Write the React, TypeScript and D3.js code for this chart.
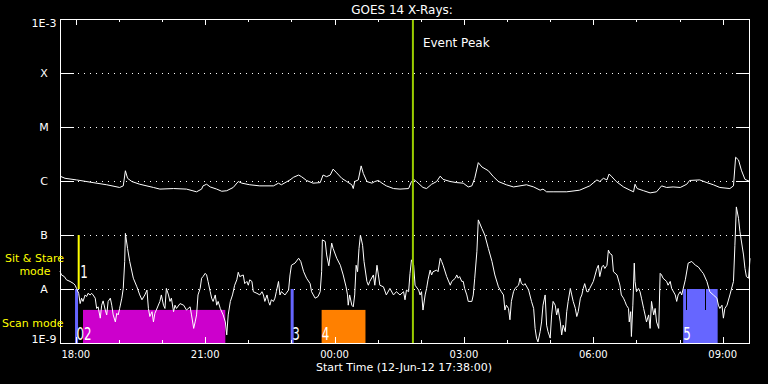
import React from "react";
import * as d3 from "d3";

// ---- data ----
const START_UTC = Date.UTC(2012, 5, 12, 17, 38, 0);
const SPAN_MIN = 960; // minutes shown
const titleText = "GOES 14 X-Rays:";
const xAxisTitle = "Start Time (12-Jun-12 17:38:00)";

// [minutes after start, log10 flux W/m^2]
const longChannel: [number, number][] = [
  [0,-5.91],[7,-5.95],[23,-5.98],[46,-6.03],[65,-6.07],[83,-6.12],[88,-6.09],[91,-5.81],[94,-5.95],[100,-6.01],
  [111,-6.06],[130,-6.12],[139,-6.15],[158,-6.14],[176,-6.15],[190,-6.2],[197,-6.15],[199,-6.09],[204,-6.06],[209,-6.11],
  [218,-6.15],[225,-6.19],[232,-6.18],[241,-6.12],[248,-6.01],[253,-6.04],[264,-6.07],[278,-6.09],[297,-6.09],[304,-6.04],
  [308,-6.07],[320,-5.98],[325,-5.93],[332,-5.89],[336,-5.92],[343,-5.99],[352,-6.04],[362,-6.03],[366,-5.89],[371,-5.92],
  [376,-5.89],[380,-5.78],[385,-5.85],[392,-5.95],[399,-6.01],[406,-6.07],[408,-6.14],[410,-6.01],[415,-5.98],[419,-5.72],
  [422,-5.86],[427,-6.01],[434,-6.04],[438,-6.01],[443,-5.99],[448,-6.04],[454,-6.09],[464,-6.14],[473,-6.15],[485,-6.14],
  [489,-6.01],[492,-5.97],[496,-6.01],[505,-6.12],[510,-6.14],[517,-6.06],[524,-6.01],[529,-5.91],[533,-5.97],[543,-6.01],
  [552,-6.03],[561,-6.04],[568,-6.11],[573,-6.09],[577,-5.95],[582,-5.66],[587,-5.74],[596,-5.81],[603,-5.92],[610,-6.01],
  [621,-6.07],[631,-6.11],[640,-6.09],[649,-6.07],[659,-6.11],[668,-6.17],[672,-6.15],[677,-6.2],[686,-6.2],[705,-6.2],
  [723,-6.17],[737,-6.09],[747,-5.98],[751,-6.01],[756,-5.95],[761,-5.98],[764,-5.87],[767,-5.91],[774,-6.01],[784,-6.11],
  [793,-6.17],[798,-6.2],[800,-6.06],[803,-6.14],[812,-6.18],[821,-6.22],[830,-6.2],[837,-6.09],[844,-6.12],[853,-6.11],
  [863,-6.12],[872,-6.06],[876,-5.99],[890,-5.98],[900,-6.03],[909,-6.07],[918,-6.12],[932,-6.14],[937,-6.09],[940,-5.56],
  [944,-5.61],[948,-5.8],[953,-5.97],[960,-6.01]
];

const shortChannel: [number, number][] = [
  [0,-7.67],[2,-7.74],[6,-7.77],[9,-7.83],[14,-7.86],[19,-7.9],[21,-7.93],[23,-7.99],[26,-8.08],[28,-8.27],
  [30,-8.17],[32,-8.23],[35,-8.11],[37,-8.14],[39,-8.08],[42,-8.11],[44,-8.08],[46,-8.11],[49,-8.17],[51,-8.36],
  [53,-8.33],[56,-8.54],[58,-8.3],[60,-8.22],[63,-8.39],[65,-8.48],[67,-8.23],[70,-8.17],[72,-8.3],[74,-8.48],
  [77,-8.61],[79,-8.45],[81,-8.48],[83,-8.36],[86,-8.17],[88,-7.99],[90,-7.49],[91,-6.97],[94,-7.25],[97,-7.49],
  [102,-7.8],[107,-7.96],[111,-8.11],[114,-8.2],[118,-8.11],[121,-8.02],[123,-8.36],[125,-8.51],[128,-8.42],[130,-8.61],
  [132,-8.45],[134,-8.39],[139,-8.23],[141,-8.11],[144,-8.3],[146,-8.36],[148,-7.99],[151,-8.11],[153,-8.23],[155,-8.17],
  [158,-8.42],[160,-8.3],[162,-8.36],[167,-8.27],[172,-8.3],[176,-8.39],[181,-8.33],[183,-8.48],[186,-8.73],[188,-8.61],
  [190,-8.48],[192,-8.11],[195,-7.99],[197,-7.8],[199,-7.77],[202,-7.71],[204,-7.74],[206,-7.86],[209,-8.05],[211,-8.17],
  [213,-8.23],[216,-8.11],[218,-8.3],[220,-8.23],[223,-8.36],[227,-8.48],[230,-8.61],[232,-8.85],[234,-8.48],[237,-8.23],
  [240,-8.11],[243,-7.93],[246,-7.83],[248,-7.69],[250,-7.77],[255,-7.74],[257,-7.9],[260,-7.86],[262,-7.93],[264,-7.83],
  [267,-7.86],[269,-8.05],[274,-8.08],[278,-8.11],[281,-8.05],[283,-8.11],[285,-8.23],[288,-8.11],[290,-8.23],[292,-8.3],
  [294,-8.2],[297,-8.23],[299,-8.17],[301,-8.05],[304,-7.86],[306,-8.11],[308,-8.05],[313,-8.11],[318,-8.02],[320,-7.74],
  [322,-7.56],[327,-7.52],[332,-7.43],[335,-7.49],[339,-7.68],[343,-7.8],[348,-7.9],[350,-8.05],[355,-8.17],[359,-8.14],
  [362,-8.05],[364,-7.68],[365,-7.09],[369,-7.12],[371,-7.37],[374,-7.57],[378,-7.15],[380,-7.25],[385,-7.43],[390,-7.56],
  [394,-7.74],[398,-7.96],[400,-8.11],[401,-8.3],[403,-8.11],[406,-8.3],[408,-8.33],[410,-8.11],[412,-7.56],[414,-7.68],
  [416,-7.25],[418,-7.0],[421,-7.19],[423,-7.49],[427,-7.86],[429,-7.93],[431,-7.86],[436,-7.74],[438,-7.93],[441,-7.56],
  [443,-7.74],[445,-7.93],[450,-7.96],[454,-8.11],[459,-7.99],[464,-8.11],[468,-8.05],[473,-8.11],[478,-8.05],[480,-8.2],
  [482,-8.02],[485,-8.05],[487,-7.71],[489,-7.46],[492,-7.56],[494,-7.93],[499,-8.02],[501,-8.11],[503,-8.05],[505,-8.39],
  [508,-8.11],[510,-7.99],[512,-7.83],[515,-7.65],[517,-7.74],[519,-7.68],[524,-7.65],[526,-7.68],[529,-7.43],[531,-7.49],
  [533,-7.56],[538,-7.77],[543,-7.93],[545,-7.86],[550,-7.8],[552,-7.74],[554,-7.8],[556,-7.77],[559,-7.86],[561,-7.86],
  [563,-7.99],[566,-8.11],[568,-8.23],[573,-8.23],[575,-8.11],[577,-7.8],[580,-7.31],[582,-6.72],[587,-6.88],[591,-7.0],
  [596,-7.25],[601,-7.49],[605,-7.74],[610,-7.96],[614,-8.05],[617,-8.11],[619,-8.39],[621,-8.3],[624,-8.36],[626,-8.57],
  [628,-8.23],[631,-8.05],[633,-7.99],[638,-7.93],[640,-7.8],[642,-7.9],[645,-7.93],[647,-7.9],[652,-8.02],[656,-8.23],
  [659,-8.36],[661,-8.73],[663,-8.91],[665,-8.98],[668,-8.79],[670,-8.61],[672,-8.3],[675,-8.11],[677,-8.67],[679,-8.79],
  [682,-8.91],[684,-8.48],[686,-8.23],[689,-8.3],[691,-8.48],[693,-8.36],[696,-8.61],[698,-8.85],[700,-8.67],[703,-8.79],
  [705,-8.42],[707,-8.23],[710,-7.99],[712,-8.11],[714,-8.23],[717,-8.36],[719,-8.51],[721,-8.42],[724,-8.17],[726,-8.11],
  [728,-7.99],[730,-7.9],[733,-8.05],[735,-8.05],[737,-7.99],[742,-7.86],[747,-7.62],[749,-7.56],[751,-7.77],[754,-7.59],
  [756,-7.56],[758,-7.62],[761,-7.56],[763,-7.28],[765,-7.34],[768,-7.37],[770,-7.68],[775,-7.74],[779,-7.93],[781,-8.11],
  [784,-8.17],[786,-8.23],[788,-8.3],[791,-8.36],[792,-8.61],[794,-8.42],[795,-8.88],[797,-8.3],[799,-7.52],[800,-7.86],
  [802,-8.05],[805,-7.99],[807,-8.05],[809,-8.17],[812,-8.36],[814,-8.48],[816,-8.61],[819,-8.48],[821,-8.73],[823,-8.23],
  [826,-8.48],[828,-8.36],[830,-8.61],[833,-8.73],[835,-7.71],[837,-7.74],[839,-7.8],[844,-7.86],[846,-7.93],[849,-7.86],
  [851,-7.99],[856,-8.11],[858,-8.23],[860,-8.11],[863,-8.05],[865,-8.11],[870,-7.83],[874,-7.52],[879,-7.49],[884,-7.56],
  [888,-7.59],[893,-7.68],[895,-7.71],[900,-7.86],[904,-8.05],[909,-8.11],[914,-8.17],[916,-8.3],[918,-8.36],[921,-8.3],
  [923,-8.54],[925,-8.36],[928,-8.3],[932,-8.11],[937,-7.86],[939,-7.19],[941,-6.48],[944,-6.69],[946,-6.94],[951,-7.37],
  [953,-7.62],[955,-7.77],[958,-7.8],[960,-7.43]
];

const levelValues = [1e-9, 1e-8, 1e-7, 1e-6, 1e-5, 1e-4, 1e-3];
const levelLabels = ["1E-9", "A", "B", "C", "M", "X", "1E-3"];
const gridLevels = [1e-8, 1e-7, 1e-6, 1e-5, 1e-4];

// observation markers (minutes after start, flux range)
const markerLabels = ["0", "1", "2", "3", "4", "5"];
const markerStart = [23, 26, 32, 323, 364, 867];
const markerEnd = [23, 26, 230, 323, 425, 915];
const markerLow = [1e-9, 1e-8, 1e-9, 1e-9, 1e-9, 1e-9];
const markerHigh = [1e-8, 1e-7, 4.1e-9, 1e-8, 4.1e-9, 1e-8];
const gapTimes = [871, 898];
const gapRange = [4.1e-9, 1e-8];
const eventPeakTime = 491;
const eventPeakLabel = "Event Peak";
const modeLabels = ["Sit & Stare", "mode", "Scan mode"];

// ---- styles ----
const markerColors = ["#6666ff", "#ffff00", "#cc00cc", "#6666ff", "#ff8000", "#6666ff"];
const FONT = "DejaVu Sans, Verdana, sans-serif";

const W = 768, H = 384;
const L = 60, R = 750, T = 19, B = 343;

export default function App() {
  const x = d3.scaleUtc()
    .domain([new Date(START_UTC), new Date(START_UTC + SPAN_MIN * 60000)])
    .range([L, R]);
  const y = d3.scaleLog().domain([1e-9, 1e-3]).range([B, T]);
  const tx = (m: number) => x(new Date(START_UTC + m * 60000));
  const ty = (lg: number) => y(Math.pow(10, lg));
  const line = d3.line<[number, number]>().x(d => tx(d[0])).y(d => ty(d[1]));
  const hourTicks = x.ticks(d3.utcHour.every(1) as any);
  const fmt = d3.utcFormat("%H:%M");

  return (
    <svg width={W} height={H} style={{ position: "absolute", left: 0, top: 0, background: "#000" }}
      fontFamily={FONT}>
      <rect x={0} y={0} width={W} height={H} fill="#000" />
      {/* dotted grid */}
      {gridLevels.map((v, i) => (
        <line key={"g" + i} x1={L} x2={R} y1={Math.round(y(v)) + 0.5} y2={Math.round(y(v)) + 0.5}
          stroke="#fff" strokeDasharray="1 5" shapeRendering="crispEdges" />
      ))}
      {/* markers */}
      {markerLabels.map((lab, i) => {
        const x0 = tx(markerStart[i]);
        const x1 = tx(markerEnd[i]);
        const yTop = y(markerHigh[i]);
        const yBot = y(markerLow[i]);
        const isLine = markerEnd[i] === markerStart[i];
        return isLine ? (
          <rect key={"m" + i} x={x0 - (i === 1 ? 1 : 1.5)} width={i === 1 ? 2 : 3} y={yTop} height={yBot - yTop}
            fill={markerColors[i]} />
        ) : (
          <rect key={"m" + i} x={x0} width={x1 - x0} y={yTop} height={yBot - yTop} fill={markerColors[i]} />
        );
      })}
      {gapTimes.map((t, i) => (
        <line key={"gap" + i} x1={Math.round(tx(t)) + 0.5} x2={Math.round(tx(t)) + 0.5}
          y1={y(gapRange[1])} y2={y(gapRange[0])} stroke="#000" shapeRendering="crispEdges" />
      ))}
      {/* curves */}
      <path d={line(longChannel) || ""} fill="none" stroke="#fff" strokeWidth={1} />
      <path d={line(shortChannel) || ""} fill="none" stroke="#fff" strokeWidth={1} />
      {/* event peak */}
      <rect x={tx(eventPeakTime) - 1} width={2} y={T} height={B - T} fill="#99cc00" />
      <text x={tx(eventPeakTime) + 10} y={47} fill="#fff" fontSize={12}>{eventPeakLabel}</text>
      {/* marker labels */}
      {markerLabels.map((lab, i) => {
        const x0 = tx(markerStart[i]) + (i === 2 ? 1 : 0);
        const yy = i === 1 ? y(markerLow[i]) - 11 : B - 3;
        return (
          <text key={"ml" + i} transform={`translate(${i === 1 ? x0 + 1.5 : x0},${yy}) scale(0.66,1)`}
            fill="#fff" fontSize={18}>{lab}</text>
        );
      })}
      {/* frame */}
      <rect x={L + 0.5} y={T + 0.5} width={R - L - 1} height={B - T} fill="none" stroke="#fff"
        shapeRendering="crispEdges" />
      {/* y ticks */}
      {levelValues.map((v, i) => {
        const yy = Math.round(y(v)) + 0.5;
        return (
          <g key={"yt" + i}>
            <line x1={L} x2={L + 14} y1={yy} y2={yy} stroke="#fff" shapeRendering="crispEdges" />
            <line x1={R - 14} x2={R} y1={yy} y2={yy} stroke="#fff" shapeRendering="crispEdges" />
            <text x={44} y={Math.min(Math.max(y(v), 23), 339.5)} fill="#fff" fontSize={11}
              textAnchor="middle" dominantBaseline="central">{levelLabels[i]}</text>
          </g>
        );
      })}
      {/* x ticks */}
      {hourTicks.map((d, i) => {
        const major = d.getUTCHours() % 3 === 0;
        const xx = Math.round(x(d)) + 0.5;
        const len = major ? 6 : 3;
        return (
          <g key={"xt" + i}>
            <line x1={xx} x2={xx} y1={B} y2={B - len} stroke="#fff" shapeRendering="crispEdges" />
            <line x1={xx} x2={xx} y1={T} y2={T + len} stroke="#fff" shapeRendering="crispEdges" />
            {major && (
              <text x={x(d)} y={358} fill="#fff" fontSize={10} textAnchor="middle">{fmt(d)}</text>
            )}
          </g>
        );
      })}
      {/* titles */}
      <text x={402} y={14} fill="#fff" fontSize={12} textAnchor="middle">{titleText}</text>
      <text x={404} y={371} fill="#fff" fontSize={11} textAnchor="middle">{xAxisTitle}</text>
      {/* mode labels */}
      <text x={34.5} y={262} fill="#ffff00" fontSize={11} textAnchor="middle">{modeLabels[0]}</text>
      <text x={35} y={275} fill="#ffff00" fontSize={11} textAnchor="middle">{modeLabels[1]}</text>
      <text x={2} y={327} fill="#ffff00" fontSize={11}>{modeLabels[2]}</text>
    </svg>
  );
}
